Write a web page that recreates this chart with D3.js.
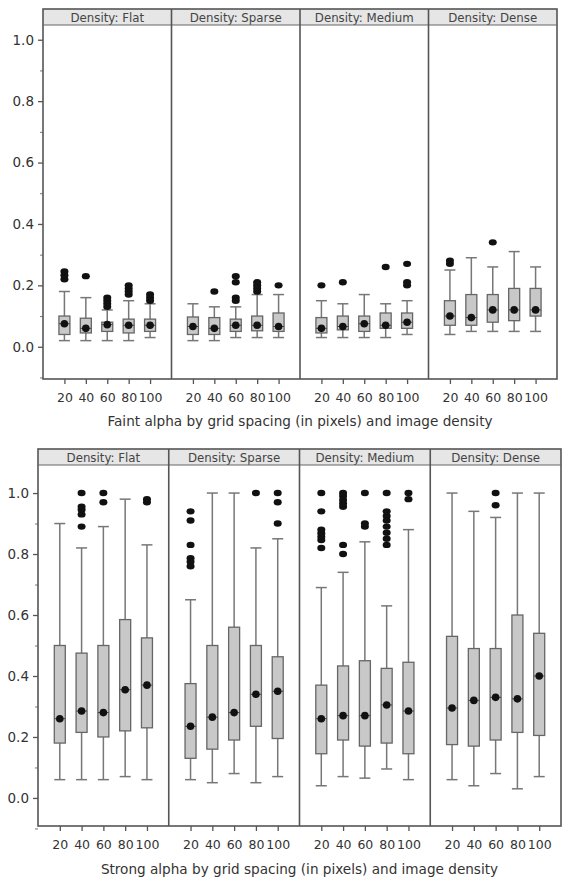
<!DOCTYPE html>
<html>
<head>
<meta charset="utf-8">
<script src="https://cdn.jsdelivr.net/npm/d3@7"></script>
<style>
  body { margin: 0; background: #fff; }
  text { font-family: "DejaVu Sans", Verdana, sans-serif; fill: #333; }
</style>
</head>
<body>
<script>
// panels and categories
var densities = ["Flat", "Sparse", "Medium", "Dense"];
var spacings = [20, 40, 60, 80, 100];
var yTicks = [0, 0.2, 0.4, 0.6, 0.8, 1.0];
var yMinor = [-0.1, 0.1, 0.3, 0.5, 0.7, 0.9];

// faint alpha -- one row per density, one value per grid spacing
var faintLow = [
  [0.02, 0.02, 0.02, 0.02, 0.03],
  [0.02, 0.02, 0.03, 0.03, 0.03],
  [0.03, 0.03, 0.03, 0.03, 0.04],
  [0.04, 0.05, 0.05, 0.05, 0.05]
];
var faintQ1 = [
  [0.04, 0.045, 0.05, 0.045, 0.05],
  [0.04, 0.04, 0.05, 0.052, 0.05],
  [0.045, 0.055, 0.05, 0.06, 0.06],
  [0.07, 0.07, 0.08, 0.085, 0.10]
];
var faintMed = [
  [0.075, 0.06, 0.072, 0.07, 0.07],
  [0.066, 0.06, 0.07, 0.07, 0.066],
  [0.06, 0.066, 0.075, 0.07, 0.08],
  [0.10, 0.095, 0.12, 0.12, 0.12]
];
var faintQ3 = [
  [0.10, 0.093, 0.08, 0.09, 0.09],
  [0.097, 0.095, 0.09, 0.10, 0.11],
  [0.095, 0.10, 0.10, 0.11, 0.11],
  [0.15, 0.17, 0.17, 0.19, 0.19]
];
var faintHigh = [
  [0.18, 0.16, 0.12, 0.15, 0.14],
  [0.14, 0.13, 0.13, 0.17, 0.17],
  [0.15, 0.14, 0.17, 0.14, 0.15],
  [0.25, 0.29, 0.26, 0.31, 0.26]
];
var faintOut = [
  [[0.22, 0.233, 0.245], [0.23], [0.13, 0.14, 0.15, 0.16], [0.17, 0.18, 0.19, 0.20], [0.15, 0.16, 0.17]],
  [[], [0.18], [0.15, 0.16, 0.21, 0.23], [0.18, 0.19, 0.20, 0.21], [0.20]],
  [[0.20], [0.21], [], [0.26], [0.20, 0.21, 0.27]],
  [[0.27, 0.28], [], [0.34], [], []]
];

// strong alpha
var strongLow = [
  [0.06, 0.06, 0.06, 0.07, 0.06],
  [0.06, 0.05, 0.08, 0.05, 0.07],
  [0.04, 0.07, 0.065, 0.095, 0.06],
  [0.06, 0.04, 0.08, 0.03, 0.07]
];
var strongQ1 = [
  [0.18, 0.215, 0.20, 0.22, 0.23],
  [0.13, 0.16, 0.19, 0.235, 0.195],
  [0.145, 0.19, 0.17, 0.18, 0.145],
  [0.175, 0.17, 0.19, 0.215, 0.205]
];
var strongMed = [
  [0.26, 0.285, 0.28, 0.355, 0.37],
  [0.235, 0.265, 0.28, 0.34, 0.35],
  [0.26, 0.27, 0.27, 0.305, 0.285],
  [0.295, 0.32, 0.33, 0.325, 0.40]
];
var strongQ3 = [
  [0.50, 0.475, 0.50, 0.585, 0.525],
  [0.375, 0.50, 0.56, 0.50, 0.463],
  [0.37, 0.433, 0.45, 0.425, 0.445],
  [0.53, 0.49, 0.49, 0.60, 0.54]
];
var strongHigh = [
  [0.90, 0.82, 0.89, 0.98, 0.83],
  [0.65, 1.0, 1.0, 0.82, 0.85],
  [0.69, 0.74, 0.84, 0.63, 0.88],
  [1.0, 0.94, 0.92, 1.0, 1.0]
];
var strongOut = [
  [[], [0.89, 0.93, 0.945, 0.955, 1.0], [0.97, 1.0], [], [0.97, 0.98]],
  [[0.76, 0.775, 0.786, 0.83, 0.91, 0.94], [], [], [1.0], [0.90, 0.97, 1.0]],
  [[0.82, 0.846, 0.857, 0.868, 0.88, 0.94, 1.0], [0.80, 0.83, 0.955, 0.966, 0.977, 0.99, 1.0], [0.89, 0.90, 1.0], [0.83, 0.85, 0.87, 0.89, 0.91, 0.925, 0.94, 1.0], [0.98, 1.0]],
  [[], [], [0.96, 1.0], [], []]
];

var W = 562, H = 883;

var svg = d3.select("body").append("svg")
    .attr("width", W)
    .attr("height", H);

drawChart({
  left: 43, right: 557, top: 9, strip: 16, bottom: 379,
  domain: [-0.105, 1.048],
  low: faintLow, q1: faintQ1, med: faintMed, q3: faintQ3, high: faintHigh, out: faintOut,
  title: "Faint alpha by grid spacing (in pixels) and image density",
  titleY: 426
});

drawChart({
  left: 38, right: 561, top: 449, strip: 16, bottom: 826,
  domain: [-0.092, 1.092],
  low: strongLow, q1: strongQ1, med: strongMed, q3: strongQ3, high: strongHigh, out: strongOut,
  title: "Strong alpha by grid spacing (in pixels) and image density",
  titleY: 874
});

function drawChart(o) {
  var g = svg.append("g");
  var plotTop = o.top + o.strip;

  var y = d3.scaleLinear()
      .domain(o.domain)
      .range([o.bottom, plotTop]);

  var panel = d3.scaleBand()
      .domain(densities)
      .range([o.left, o.right]);

  // header strips
  g.selectAll("rect.strip")
    .data(densities)
    .enter().append("rect")
      .attr("class", "strip")
      .attr("x", function(d) { return panel(d); })
      .attr("y", o.top)
      .attr("width", panel.bandwidth())
      .attr("height", o.strip)
      .attr("fill", "#e6e6e6");

  g.selectAll("text.strip")
    .data(densities)
    .enter().append("text")
      .attr("class", "strip")
      .attr("x", function(d) { return panel(d) + panel.bandwidth() / 2; })
      .attr("y", o.top + o.strip / 2 + 4.5)
      .attr("text-anchor", "middle")
      .style("font-size", "11.8px")
      .style("fill", "#444")
      .text(function(d) { return "Density: " + d; });

  // boxes per panel
  densities.forEach(function(dens, i) {
    var x = d3.scalePoint()
        .domain(spacings)
        .range([panel(dens), panel(dens) + panel.bandwidth()])
        .padding(1);

    var rows = spacings.map(function(s, j) {
      return { s: s, low: o.low[i][j], q1: o.q1[i][j], med: o.med[i][j],
               q3: o.q3[i][j], high: o.high[i][j], out: o.out[i][j] };
    });

    var pg = g.append("g");
    var bw = 11, cw = 11;

    // whiskers
    pg.selectAll("line.whisk")
      .data(rows)
      .enter().append("line")
        .attr("x1", function(d) { return x(d.s); })
        .attr("x2", function(d) { return x(d.s); })
        .attr("y1", function(d) { return y(d.low); })
        .attr("y2", function(d) { return y(d.high); })
        .attr("stroke", "#777")
        .attr("stroke-width", 1.5);

    ["low", "high"].forEach(function(k) {
      pg.selectAll("line.cap" + k)
        .data(rows)
        .enter().append("line")
          .attr("x1", function(d) { return x(d.s) - cw / 2; })
          .attr("x2", function(d) { return x(d.s) + cw / 2; })
          .attr("y1", function(d) { return y(d[k]); })
          .attr("y2", function(d) { return y(d[k]); })
          .attr("stroke", "#777")
          .attr("stroke-width", 1.5);
    });

    pg.selectAll("rect.box")
      .data(rows)
      .enter().append("rect")
        .attr("x", function(d) { return x(d.s) - bw / 2; })
        .attr("y", function(d) { return y(d.q3); })
        .attr("width", bw)
        .attr("height", function(d) { return y(d.q1) - y(d.q3); })
        .attr("fill", "#c8c8c8")
        .attr("stroke", "#666")
        .attr("stroke-width", 1.3);

    pg.selectAll("line.med")
      .data(rows)
      .enter().append("line")
        .attr("x1", function(d) { return x(d.s) - bw / 2; })
        .attr("x2", function(d) { return x(d.s) + bw / 2; })
        .attr("y1", function(d) { return y(d.med); })
        .attr("y2", function(d) { return y(d.med); })
        .attr("stroke", "#444")
        .attr("stroke-width", 1);

    pg.selectAll("circle.med")
      .data(rows)
      .enter().append("circle")
        .attr("cx", function(d) { return x(d.s); })
        .attr("cy", function(d) { return y(d.med); })
        .attr("r", 3.8)
        .attr("fill", "#111");

    // outliers
    var pts = [];
    rows.forEach(function(d) {
      d.out.forEach(function(v) { pts.push({ s: d.s, v: v }); });
    });
    pg.selectAll("ellipse.out")
      .data(pts)
      .enter().append("ellipse")
        .attr("cx", function(d) { return x(d.s); })
        .attr("cy", function(d) { return y(d.v); })
        .attr("rx", 4)
        .attr("ry", 3.2)
        .attr("fill", "#111");

    // x axis for the panel
    var xa = g.append("g")
        .attr("transform", "translate(0," + o.bottom + ")")
        .call(d3.axisBottom(x).tickSize(5).tickPadding(9));
    xa.select(".domain").remove();
    xa.selectAll("line").attr("stroke", "#555").attr("stroke-width", 1.3);
    xa.selectAll("text").style("font-size", "12.5px").style("font-family", "DejaVu Sans").style("fill", "#333");
  });

  // y axis
  var ya = g.append("g")
      .attr("transform", "translate(" + o.left + ",0)")
      .call(d3.axisLeft(y).tickValues(yTicks).tickFormat(d3.format(".1f")).tickSize(5).tickPadding(4));
  ya.select(".domain").remove();
  ya.selectAll("line").attr("stroke", "#555").attr("stroke-width", 1.3);
  ya.selectAll("text").style("font-size", "13.5px").style("font-family", "DejaVu Sans").style("fill", "#333");

  var ym = g.append("g")
      .attr("transform", "translate(" + o.left + ",0)")
      .call(d3.axisLeft(y).tickValues(yMinor).tickFormat("").tickSize(3));
  ym.select(".domain").remove();
  ym.selectAll("line").attr("stroke", "#777");

  // frame and panel separators
  g.append("rect")
    .attr("x", o.left)
    .attr("y", o.top)
    .attr("width", o.right - o.left)
    .attr("height", o.bottom - o.top)
    .attr("fill", "none")
    .attr("stroke", "#555")
    .attr("stroke-width", 1.6);

  g.append("line")
    .attr("x1", o.left).attr("x2", o.right)
    .attr("y1", plotTop).attr("y2", plotTop)
    .attr("stroke", "#666")
    .attr("stroke-width", 1.2);

  g.selectAll("line.sep")
    .data(densities.slice(1))
    .enter().append("line")
      .attr("x1", function(d) { return panel(d); })
      .attr("x2", function(d) { return panel(d); })
      .attr("y1", o.top)
      .attr("y2", o.bottom)
      .attr("stroke", "#555")
      .attr("stroke-width", 1.6);

  g.append("text")
    .attr("x", (o.left + o.right) / 2)
    .attr("y", o.titleY)
    .attr("text-anchor", "middle")
    .style("font-size", "13.6px")
    .style("fill", "#333")
    .text(o.title);
}
</script>
</body>
</html>
